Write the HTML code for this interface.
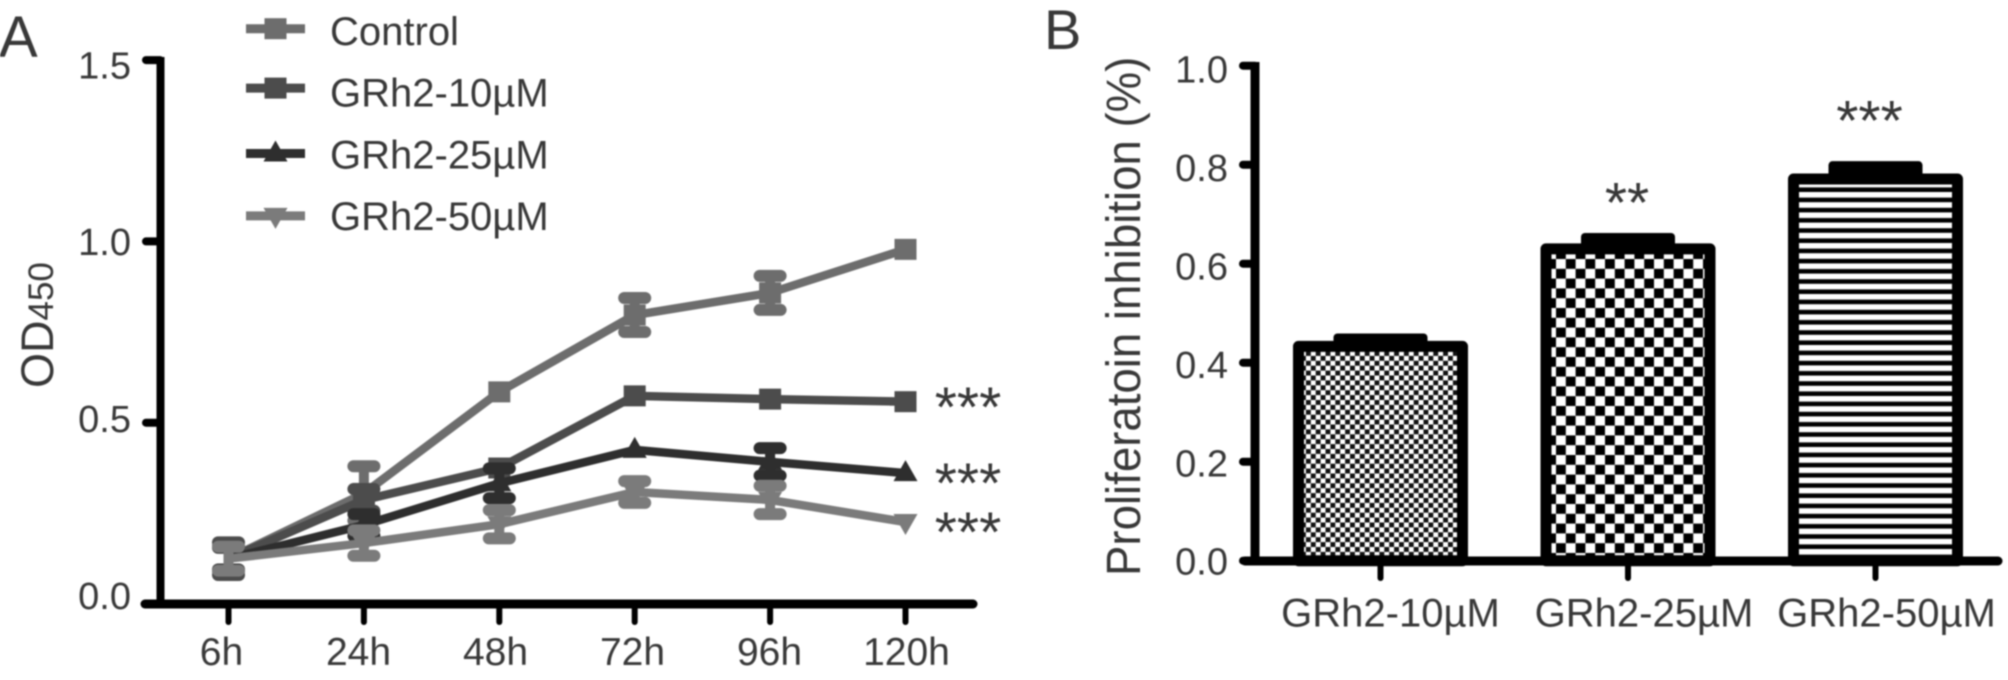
<!DOCTYPE html>
<html lang="en">
<head>
<meta charset="utf-8">
<title>GRh2 proliferation charts</title>
<style>
html,body{margin:0;padding:0;background:#fff;width:2008px;height:680px;overflow:hidden}
svg{display:block;filter:blur(.7px)}
text{font-family:"Liberation Sans",Arial,sans-serif;fill:#383838}
</style>
</head>
<body>
<svg id="figure" xmlns="http://www.w3.org/2000/svg" width="2008" height="680" viewBox="0 0 2008 680">
<defs>
<pattern id="fineCheck" patternUnits="userSpaceOnUse" width="9.8" height="9.8" x="1301" y="351">
<rect width="9.8" height="9.8" fill="#111"/><rect width="4.9" height="4.9" fill="#fff"/><rect x="4.9" y="4.9" width="4.9" height="4.9" fill="#fff"/>
</pattern>
<pattern id="coarseCheck" patternUnits="userSpaceOnUse" width="19.6" height="19.6" x="1556" y="259">
<rect width="19.6" height="19.6" fill="#000"/><rect width="9.8" height="9.8" fill="#fff"/><rect x="9.8" y="9.8" width="9.8" height="9.8" fill="#fff"/>
</pattern>
<pattern id="stripes" patternUnits="userSpaceOnUse" width="10.2" height="10.2" x="1790" y="192">
<rect width="10.2" height="10.2" fill="#000"/><rect width="10.2" height="5.6" fill="#fff"/>
</pattern>
</defs>
<g id="panelA"></g>
<g id="panelB"></g>
</svg>
<script>
// Panel A data
const timeLabels = ['6h','24h','48h','72h','96h','120h'];
const controlValues = [0.125,0.305,0.585,0.797,0.858,0.978];
const controlErrors = [0.035,0.075,0,0.047,0.047,0];
const grh10Values = [0.125,0.287,0.375,0.574,0.565,0.558];
const grh10Errors = [0.045,0.030,0,0,0,0];
const grh25Values = [0.125,0.218,0.333,0.425,0.392,0.361];
const grh25Errors = [0.030,0.030,0.041,0,0.038,0];
const grh50Values = [0.125,0.168,0.220,0.309,0.287,0.226];
const grh50Errors = [0.033,0.035,0.039,0.030,0.039,0];
const lineYTicks = [0,0.5,1.0,1.5];
const lineYTickLabels = ['0.0','0.5','1.0','1.5'];
const seriesNames = ['Control','GRh2-10µM','GRh2-25µM','GRh2-50µM'];
const seriesStars = ['','***','***','***'];
// Panel B data
const barCategories = ['GRh2-10µM','GRh2-25µM','GRh2-50µM'];
const barValues = [0.433,0.630,0.771];
const barErrors = [0.016,0.022,0.026];
const barStars = ['','**','***'];
const barYTicks = [0,0.2,0.4,0.6,0.8,1.0];
const barYTickLabels = ['0.0','0.2','0.4','0.6','0.8','1.0'];

const NS = 'http://www.w3.org/2000/svg';
function mk(parent, tag, attrs, txt){
  const e = document.createElementNS(NS, tag);
  for (const k in attrs) e.setAttribute(k, attrs[k]);
  if (txt !== undefined) e.textContent = txt;
  parent.appendChild(e);
  return e;
}
function named(el, name){
  
  
  return el;
}
const AXIS = '#000';

/* ---------- Panel A ---------- */
const A = document.getElementById('panelA');
const xA = i => 228.5 + 135.4 * i;
const yA = v => 604 - 362.6 * v;
const lineColors = ['#6d6d6d','#4c4c4c','#2e2e2e','#7b7b7b'];
const lineValues = [controlValues, grh10Values, grh25Values, grh50Values];
const lineErrors = [controlErrors, grh10Errors, grh25Errors, grh50Errors];
const markerKinds = ['square','square','up','down'];

function marker(parent, kind, x, y, color, name){
  let m;
  if (kind === 'square') m = mk(parent,'rect',{x:x-11,y:y-10.5,width:22,height:21,fill:color});
  else if (kind === 'up') m = mk(parent,'polygon',{points:`${x},${y-13} ${x+12},${y+8} ${x-12},${y+8}`,fill:color});
  else m = mk(parent,'polygon',{points:`${x-12},${y-8} ${x+12},${y-8} ${x},${y+13}`,fill:color});
  named(m, name);
}

named(mk(A,'text',{x:-1,y:57,'font-size':58},'A'),'panel-a-letter');
named(mk(A,'line',{x1:160.5,y1:57,x2:160.5,y2:608,stroke:AXIS,'stroke-width':8}),'a-y-axis');
named(mk(A,'line',{x1:145,y1:604,x2:973,y2:604,stroke:AXIS,'stroke-width':9,'stroke-linecap':'round'}),'a-x-axis');

lineYTicks.forEach((v,i)=>{
  const y = yA(v);
  named(mk(A,'line',{x1:146,y1:y,x2:160,y2:y,stroke:AXIS,'stroke-width':8,'stroke-linecap':'round'}),'a-y-tick');
  named(mk(A,'text',{x:131,y:y+5+v*8.8,'font-size':38,'text-anchor':'end'},lineYTickLabels[i]),'a-y-tick-label');
});
timeLabels.forEach((t,i)=>{
  const x = xA(i);
  named(mk(A,'line',{x1:x,y1:604,x2:x,y2:622,stroke:AXIS,'stroke-width':6,'stroke-linecap':'round'}),'a-x-tick');
  named(mk(A,'text',{x:x-7+i*1.6,y:665,'font-size':39,'text-anchor':'middle'},t),'a-x-tick-label');
});

const ot = named(mk(A,'text',{transform:'translate(53,388) rotate(-90)','font-size':45}),'a-y-axis-title');
mk(ot,'tspan',{},'OD');
mk(ot,'tspan',{'font-size':35},'450');

seriesNames.forEach((name,s)=>{
  const g = named(mk(A,'g',{}),'series-'+name.toLowerCase());
  const c = lineColors[s], vals = lineValues[s], errs = lineErrors[s];
  vals.forEach((v,i)=>{
    if (!errs[i]) return;
    const x = xA(i), t = yA(v+errs[i]), b = yA(v-errs[i]);
    named(mk(g,'line',{x1:x,y1:t,x2:x,y2:b,stroke:c,'stroke-width':10}),'error-stem');
    named(mk(g,'line',{x1:x-10.5,y1:t,x2:x+10.5,y2:t,stroke:c,'stroke-width':12,'stroke-linecap':'round'}),'error-cap-top');
    named(mk(g,'line',{x1:x-10.5,y1:b,x2:x+10.5,y2:b,stroke:c,'stroke-width':12,'stroke-linecap':'round'}),'error-cap-bottom');
  });
  const pts = vals.map((v,i)=>xA(i)+','+yA(v)).join(' ');
  named(mk(g,'polyline',{points:pts,fill:'none',stroke:c,'stroke-width':8.5,'stroke-linejoin':'round'}),'series-line');
  vals.forEach((v,i)=>{
    if (i === 0) return;
    marker(g, markerKinds[s], xA(i), yA(v), c, 'data-marker');
  });
  if (seriesStars[s]) {
    const starDrop = s === 1 ? 25 : 29.5;
    named(mk(A,'text',{x:968,y:yA(vals[vals.length-1])+starDrop,'font-size':57,'text-anchor':'middle'},seriesStars[s]),'significance-stars');
  }
  // legend
  const ly = 28.7 + 62.4 * s - (s === 1 ? 3 : 0);
  const lg = named(mk(A,'g',{}),'legend-entry');
  named(mk(lg,'line',{x1:246,y1:ly,x2:305,y2:ly,stroke:c,'stroke-width':9}),'legend-line');
  marker(lg, markerKinds[s], 275.5, ly, c, 'legend-marker');
  named(mk(lg,'text',{x:330,y:45 + 61.7 * s,'font-size':40},name),'legend-label');
});

/* ---------- Panel B ---------- */
const B = document.getElementById('panelB');
const xB = i => 1380.5 + 247.5 * i;
const yB = v => 560.7 - 495 * v;
const fills = ['url(#fineCheck)','url(#coarseCheck)','url(#stripes)'];
const barSlugs = ['bar-10um','bar-25um','bar-50um'];
const labelNudge = i => 10 + (i === 1 ? 6 : 0) + (i === 2 ? 1 : 0);
const starNudge = i => (i === 2 ? -6 : -1);
const starRise = i => (i === 2 ? 26 : 16);

named(mk(B,'text',{x:1044,y:49,'font-size':56},'B'),'panel-b-letter');
named(mk(B,'line',{x1:1255,y1:62,x2:1255,y2:565,stroke:AXIS,'stroke-width':9}),'b-y-axis');
barYTicks.forEach((v,i)=>{
  const y = yB(v);
  named(mk(B,'line',{x1:1243,y1:y,x2:1255,y2:y,stroke:AXIS,'stroke-width':8,'stroke-linecap':'round'}),'b-y-tick');
  named(mk(B,'text',{x:1228,y:y+14+v*3,'font-size':38,'text-anchor':'end'},barYTickLabels[i]),'b-y-tick-label');
});
barCategories.forEach((name,i)=>{
  const x = xB(i), y = yB(barValues[i]), h = 560.7 - y, ey = yB(barValues[i]+barErrors[i]);
  const g = named(mk(B,'g',{}),barSlugs[i]);
  named(mk(g,'rect',{x:x-47,y:ey-5,width:94,height:y-ey+5,rx:4,fill:'#000'}),'error-cap');
  named(mk(g,'rect',{x:x-82,y:y,width:164,height:h,fill:fills[i],stroke:'#000','stroke-width':11,'stroke-linejoin':'round'}),'bar-body');
  named(mk(B,'line',{x1:x,y1:561,x2:x,y2:578,stroke:AXIS,'stroke-width':6,'stroke-linecap':'round'}),'b-x-tick');
  named(mk(B,'text',{x:x+labelNudge(i),y:626.5,'font-size':40,'text-anchor':'middle'},name),'b-x-tick-label');
  if (barStars[i]) {
    named(mk(B,'text',{x:x+starNudge(i),y:ey-starRise(i),'font-size':57,'text-anchor':'middle'},barStars[i]),'significance-stars');
  }
});
named(mk(B,'line',{x1:1245,y1:561,x2:1998,y2:561,stroke:AXIS,'stroke-width':9,'stroke-linecap':'round'}),'b-x-axis');
named(mk(B,'text',{transform:'translate(1140,576) rotate(-90) scale(1,1.06)','font-size':45.6},'Proliferatoin inhibition (%)'),'b-y-axis-title');
</script>
</body>
</html>
